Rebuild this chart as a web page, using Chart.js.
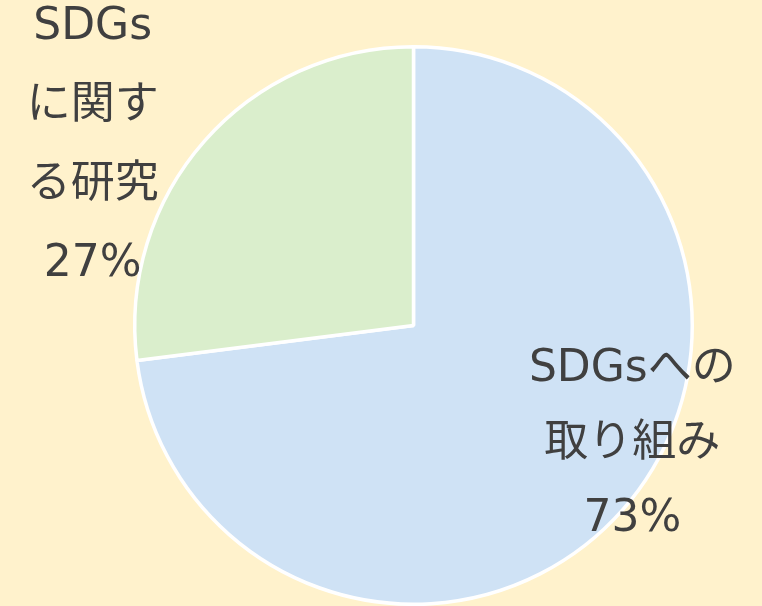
<!DOCTYPE html>
<html>
<head>
<meta charset="utf-8">
<script src="https://cdn.jsdelivr.net/npm/chart.js@4.4.1/dist/chart.umd.min.js"></script>
<style>
  html, body { margin: 0; padding: 0; background: #FFF2CC; }
  #wrap { width: 762px; height: 606px; }
</style>
</head>
<body>
<div id="wrap"><canvas id="pieChart" width="762" height="606"></canvas></div>
<script>
// --- Data ---
const categories = ['SDGsへの\n取り組み', 'SDGs\nに関す\nる研究'];
const shares = [73, 27];
const sliceColors = ['#CFE2F5', '#DAEECC'];

// label placement relative to the arc (in radii) and line height
const labelSpots = [
    { dx: 0.785, dy: 0.427, lineH: 75 },
    { dx: -1.151, dy: -0.645, lineH: 79 }
];

const pieLabels = {
    id: 'pieLabels',
    afterDatasetsDraw(chart) {
        const ctx = chart.ctx;
        const meta = chart.getDatasetMeta(0);
        ctx.save();
        ctx.fillStyle = '#404040';
        ctx.font = '44px "DejaVu Sans", "Noto Sans CJK JP", sans-serif';
        ctx.textAlign = 'center';
        ctx.textBaseline = 'middle';
        meta.data.forEach((arc, i) => {
            const spot = labelSpots[i];
            const lines = categories[i].split('\n').concat(shares[i] + '%');
            const cx = arc.x + spot.dx * arc.outerRadius;
            const cy = arc.y + spot.dy * arc.outerRadius;
            const top = cy - (lines.length - 1) * spot.lineH / 2;
            lines.forEach((line, j) => {
                ctx.fillText(line, cx, top + j * spot.lineH);
            });
        });
        ctx.restore();
    }
};

const ctx = document.getElementById('pieChart').getContext('2d');
new Chart(ctx, {
    type: 'pie',
    data: {
        labels: categories,
        datasets: [{
            data: shares,
            backgroundColor: sliceColors,
            borderColor: '#ffffff',
            borderWidth: 3.5,
            hoverOffset: 0,
            offset: 0
        }]
    },
    options: {
        responsive: false,
        animation: false,
        layout: { padding: { left: 133, right: 68, top: 45, bottom: 0 } },
        plugins: {
            legend: { display: false },
            tooltip: { enabled: false }
        }
    },
    plugins: [pieLabels]
});
</script>
</body>
</html>
